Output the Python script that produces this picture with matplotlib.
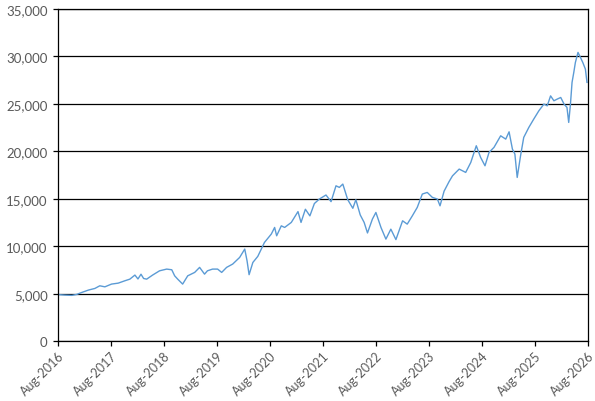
import matplotlib
matplotlib.use("Agg")
import matplotlib.pyplot as plt
import matplotlib.dates as mdates
import matplotlib.ticker as mticker
import pandas as pd

# values
dates = [
    "2016-08-03", "2016-09-18", "2016-11-04", "2016-12-08", "2017-01-12",
    "2017-02-27", "2017-04-12", "2017-05-16", "2017-06-20", "2017-08-05",
    "2017-09-20", "2017-11-05", "2017-12-09", "2018-01-13", "2018-02-03",
    "2018-02-24", "2018-03-14", "2018-04-04", "2018-05-15", "2018-07-02",
    "2018-08-20", "2018-09-24", "2018-10-14", "2018-11-04", "2018-12-08",
    "2019-01-12", "2019-03-01", "2019-04-04", "2019-05-08", "2019-05-28",
    "2019-07-02", "2019-08-06", "2019-09-03", "2019-10-07", "2019-11-18",
    "2020-01-05", "2020-02-09", "2020-02-25", "2020-03-10", "2020-04-05",
    "2020-05-09", "2020-06-24", "2020-08-10", "2020-09-02", "2020-09-16",
    "2020-10-18", "2020-11-10", "2020-12-26", "2021-02-10", "2021-03-03",
    "2021-04-02", "2021-05-03", "2021-06-03", "2021-07-07", "2021-08-22",
    "2021-09-26", "2021-10-30", "2021-11-22", "2021-12-16", "2022-01-19",
    "2022-02-23", "2022-03-16", "2022-04-15", "2022-05-12", "2022-06-04",
    "2022-07-08", "2022-08-01", "2022-09-05", "2022-10-09", "2022-11-12",
    "2022-12-17", "2023-02-01", "2023-03-05", "2023-04-09", "2023-05-13",
    "2023-06-17", "2023-07-21", "2023-08-25", "2023-09-29", "2023-10-17",
    "2023-11-14", "2023-12-18", "2024-01-11", "2024-02-26", "2024-04-11",
    "2024-05-16", "2024-06-23", "2024-07-23", "2024-08-22", "2024-09-19",
    "2024-10-23", "2024-12-08", "2025-01-12", "2025-02-04", "2025-02-27",
    "2025-03-16", "2025-04-01", "2025-04-24", "2025-05-16", "2025-06-20",
    "2025-07-24", "2025-08-28", "2025-10-02", "2025-10-25", "2025-11-17",
    "2025-12-10", "2026-01-02", "2026-01-26", "2026-02-18", "2026-03-10",
    "2026-03-22", "2026-04-03", "2026-04-14", "2026-04-26", "2026-05-07",
    "2026-05-25", "2026-06-11", "2026-06-27", "2026-07-15", "2026-07-26",
]
values = [
    4900, 4850, 4820, 4920, 5130,
    5380, 5550, 5830, 5720, 6010,
    6110, 6360, 6530, 6960, 6550,
    7050, 6600, 6530, 6960, 7410,
    7590, 7520, 6880, 6530, 6010,
    6880, 7240, 7770, 7060, 7410,
    7590, 7590, 7240, 7770, 8120,
    8820, 9700, 8460, 7000, 8290,
    8930, 10400, 11280, 11980, 11100,
    12150, 11980, 12510, 13650, 12510,
    13900, 13200, 14500, 14970, 15400,
    14700, 16370, 16200, 16550, 14900,
    14000, 14900, 13300, 12510, 11400,
    12860, 13560, 11980, 10750, 11800,
    10700, 12680, 12330, 13200, 14090,
    15500, 15670, 15150, 14970, 14260,
    15800, 16800, 17420, 18130, 17780,
    18830, 20590, 19360, 18480, 19890,
    20420, 21640, 21290, 22060, 20240,
    19710, 17250, 19530, 21470, 22520,
    23400, 24270, 24980, 24800, 25850,
    25330, 25510, 25680, 24980, 24630,
    23050, 24980, 27270, 28320, 29370,
    30430, 29900, 29370, 28670, 27270,
]
tick_years = list(range(2016, 2027))

x = pd.to_datetime(dates)
ticks = [pd.Timestamp(f"{y}-08-01") for y in tick_years]

plt.rcParams['font.family'] = ['Lato', 'DejaVu Sans']
grey = '#595959'

fig = plt.figure(figsize=(5.95, 4.02), dpi=100)
ax = fig.add_axes([0.0975, 0.149, 0.8905, 0.826])

ax.plot(x, values, color='#5B9BD5', lw=1.0)

ax.set_xlim(ticks[0], ticks[-1])
ax.set_ylim(0, 35000)
ax.set_yticks(range(0, 35001, 5000))
ax.yaxis.set_major_formatter(mticker.StrMethodFormatter('{x:,.0f}'))
ax.set_xticks(ticks)
ax.xaxis.set_major_formatter(mdates.DateFormatter('%b-%Y'))

ax.grid(axis='y', color='black', lw=0.9)
ax.set_axisbelow(True)
for s in ax.spines.values():
    s.set_color('black')
    s.set_linewidth(0.9)

ax.tick_params(axis='both', direction='out', length=3.5, width=0.9,
               color='black', labelcolor=grey, labelsize=9.5)
ax.tick_params(axis='y', pad=4)
ax.tick_params(axis='x', labelsize=9, pad=2)
plt.setp(ax.get_xticklabels(), rotation=45, ha='right', rotation_mode='anchor')

fig.savefig('out.png', dpi=100)
